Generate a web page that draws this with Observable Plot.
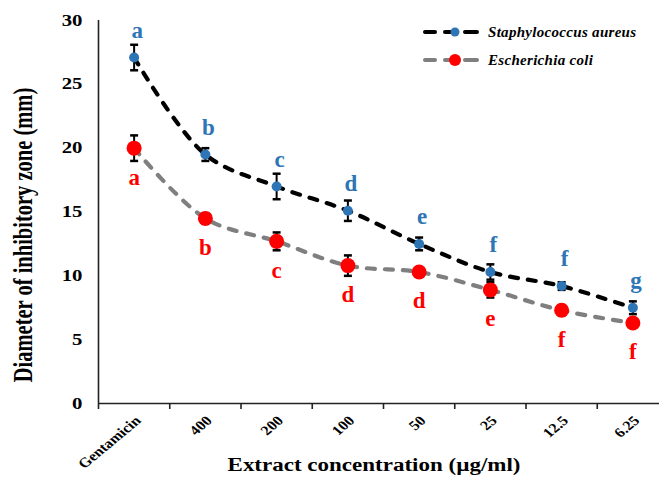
<!DOCTYPE html>
<html>
<head>
<meta charset="utf-8">
<script src="https://cdn.jsdelivr.net/npm/d3@7"></script>
<script src="https://cdn.jsdelivr.net/npm/@observablehq/plot@0.6"></script>
<style>
  html, body { margin: 0; padding: 0; background: white; overflow: hidden; }
  #wrap { position: relative; width: 659px; height: 481px; overflow: hidden; }
  #legend { position: absolute; left: 423px; top: 18px; font-family: "Liberation Serif", serif; font-weight: bold; font-style: italic; font-size: 15px; letter-spacing: 0.3px; color: #000; }
  #legend .row { display: flex; align-items: center; height: 28px; }
  #legend svg { margin-right: 9px; }
</style>
</head>
<body>
<div id="wrap"><div id="legend"></div></div>
<script>
const categories = ["Gentamicin", "400", "200", "100", "50", "25", "12.5", "6.25"];
const saMean = [27.1, 19.5, 17.0, 15.1, 12.5, 10.3, 9.2, 7.5];
const saErr = [1.0, 0.5, 1.0, 0.8, 0.5, 0.6, 0.3, 0.5];
const saLetters = ["a", "b", "c", "d", "e", "f", "f", "g"];
const ecMean = [20.0, 14.5, 12.7, 10.8, 10.3, 8.9, 7.3, 6.3];
const ecErr = [1.0, 0.4, 0.7, 0.8, 0.3, 0.6, 0.4, 0.3];
const ecLetters = ["a", "b", "c", "d", "d", "e", "f", "f"];
const yTicks = [0, 5, 10, 15, 20, 25, 30];
const seriesNames = ["Staphylococcus aureus", "Escherichia coli"];

const sa = categories.map((c, i) => ({i: i + 0.5, cat: c, v: saMean[i], e: saErr[i], l: saLetters[i]}));
const ec = categories.map((c, i) => ({i: i + 0.5, cat: c, v: ecMean[i], e: ecErr[i], l: ecLetters[i]}));
const boundaries = d3.range(categories.length + 1);

const BLUE = "#2E75B6", RED = "#FF0000", GRAY = "#7F7F7F";
const FONT = "Liberation Serif";

const capSymbol = {
  draw(ctx, size) {
    const w = Math.sqrt(size) / 2;
    ctx.moveTo(-w, 0);
    ctx.lineTo(w, 0);
  }
};

function errorMarks(data) {
  return [
    Plot.ruleX(data, {x: "i", y1: d => d.v - d.e, y2: d => d.v + d.e, stroke: "#000", strokeWidth: 2}),
    Plot.dot(data, {x: "i", y: d => d.v - d.e, symbol: capSymbol, r: 4.5, stroke: "#000", strokeWidth: 2.5, fill: "none"}),
    Plot.dot(data, {x: "i", y: d => d.v + d.e, symbol: capSymbol, r: 4.5, stroke: "#000", strokeWidth: 2.5, fill: "none"})
  ];
}

const chart = Plot.plot({
  width: 659,
  height: 481,
  marginLeft: 98,
  marginRight: 0,
  marginTop: 20,
  marginBottom: 78,
  style: {fontFamily: FONT, fontWeight: "bold", background: "white", overflow: "hidden"},
  x: {type: "linear", domain: [0, categories.length], range: [98, 668]},
  y: {domain: [0, 30], range: [403, 20]},
  marks: [
    Plot.axisY({ticks: yTicks, tickSize: 0, tickPadding: 16, fontSize: 16, fontWeight: "bold", label: null, fill: "#000"}),
    Plot.axisX({ticks: boundaries, tickSize: 6, tickFormat: () => "", label: null, stroke: "#222", strokeWidth: 1.6}),
    Plot.ruleY([0], {stroke: "#222", strokeWidth: 1.6}),
    Plot.ruleX([0], {y1: 0, y2: 30, stroke: "#222", strokeWidth: 1.6}),
    Plot.text(categories, {x: (d, i) => i + 0.5, y: () => 0, text: d => d, rotate: -45, textAnchor: "end", dx: 4, dy: 15, fontSize: 13.5, fontWeight: "bold", fill: "#000"}),
    Plot.text(["Diameter of inhibitory zone (mm)"], {frameAnchor: "left", textAnchor: "middle", text: d => d, rotate: -90, dx: -75, dy: 23, fontSize: 20.5, fontWeight: "bold", fill: "#000"}),
    Plot.text(["Extract concentration (µg/ml)"], {frameAnchor: "bottom", textAnchor: "middle", text: d => d, dx: -5, dy: 67, fontSize: 19.5, fontWeight: "bold", fill: "#000"}),
    Plot.line(ec, {x: "i", y: "v", curve: "catmull-rom", stroke: GRAY, strokeWidth: 4.2, strokeDasharray: "8,10", strokeLinecap: "round"}),
    Plot.line(sa, {x: "i", y: "v", curve: "catmull-rom", stroke: "#000", strokeWidth: 4.2, strokeDasharray: "8,10", strokeLinecap: "round"}),
    ...errorMarks(ec),
    ...errorMarks(sa),
    Plot.dot(ec, {x: "i", y: "v", r: 7.5, fill: RED}),
    Plot.dot(sa, {x: "i", y: "v", r: 5, fill: BLUE}),
    Plot.text(sa, {x: "i", y: "v", text: "l", dx: 3, dy: -27, fontSize: 23, fontWeight: "bold", fill: BLUE}),
    Plot.text(ec, {x: "i", y: "v", text: "l", dy: 29, fontSize: 23, fontWeight: "bold", fill: RED})
  ]
});

// horizontal stretch of the serif text, as in the reference rendering
const stretch = {"16": 1.3, "13.5": 1.2, "20.5": 1.3, "19.5": 1.18};
d3.select(chart).selectAll("g").each(function () {
  const fs = this.getAttribute("font-size");
  const s = fs && stretch[String(parseFloat(fs))];
  if (!s) return;
  d3.select(this).selectAll("text").each(function () {
    const t = this.getAttribute("transform");
    if (t && /^translate\([^)]*\)/.test(t)) {
      this.setAttribute("transform", t.replace(/^(translate\([^)]*\))/, `$1 scale(${s},1)`));
    } else {
      const x = +this.getAttribute("x") || 0;
      this.removeAttribute("x");
      this.setAttribute("transform", `translate(${x},0) scale(${s},1)` + (t ? " " + t : ""));
    }
  });
});

const wrap = document.getElementById("wrap");
wrap.insertBefore(chart, wrap.firstChild);

const legend = document.getElementById("legend");
const legendStyles = [{stroke: "#000", fill: BLUE, r: 4.5}, {stroke: GRAY, fill: RED, r: 6}];
seriesNames.forEach((name, k) => {
  const s = legendStyles[k];
  const row = document.createElement("div");
  row.className = "row";
  row.innerHTML = `<svg width="56" height="16" viewBox="0 0 56 16">
    <line x1="2" y1="8" x2="12" y2="8" stroke="${s.stroke}" stroke-width="4" stroke-linecap="round"/>
    <line x1="22" y1="8" x2="34" y2="8" stroke="${s.stroke}" stroke-width="4" stroke-linecap="round"/>
    <line x1="42" y1="8" x2="54" y2="8" stroke="${s.stroke}" stroke-width="4" stroke-linecap="round"/>
    <circle cx="32" cy="8" r="${s.r}" fill="${s.fill}"/>
  </svg><span>${name}</span>`;
  legend.appendChild(row);
});
</script>
</body>
</html>
